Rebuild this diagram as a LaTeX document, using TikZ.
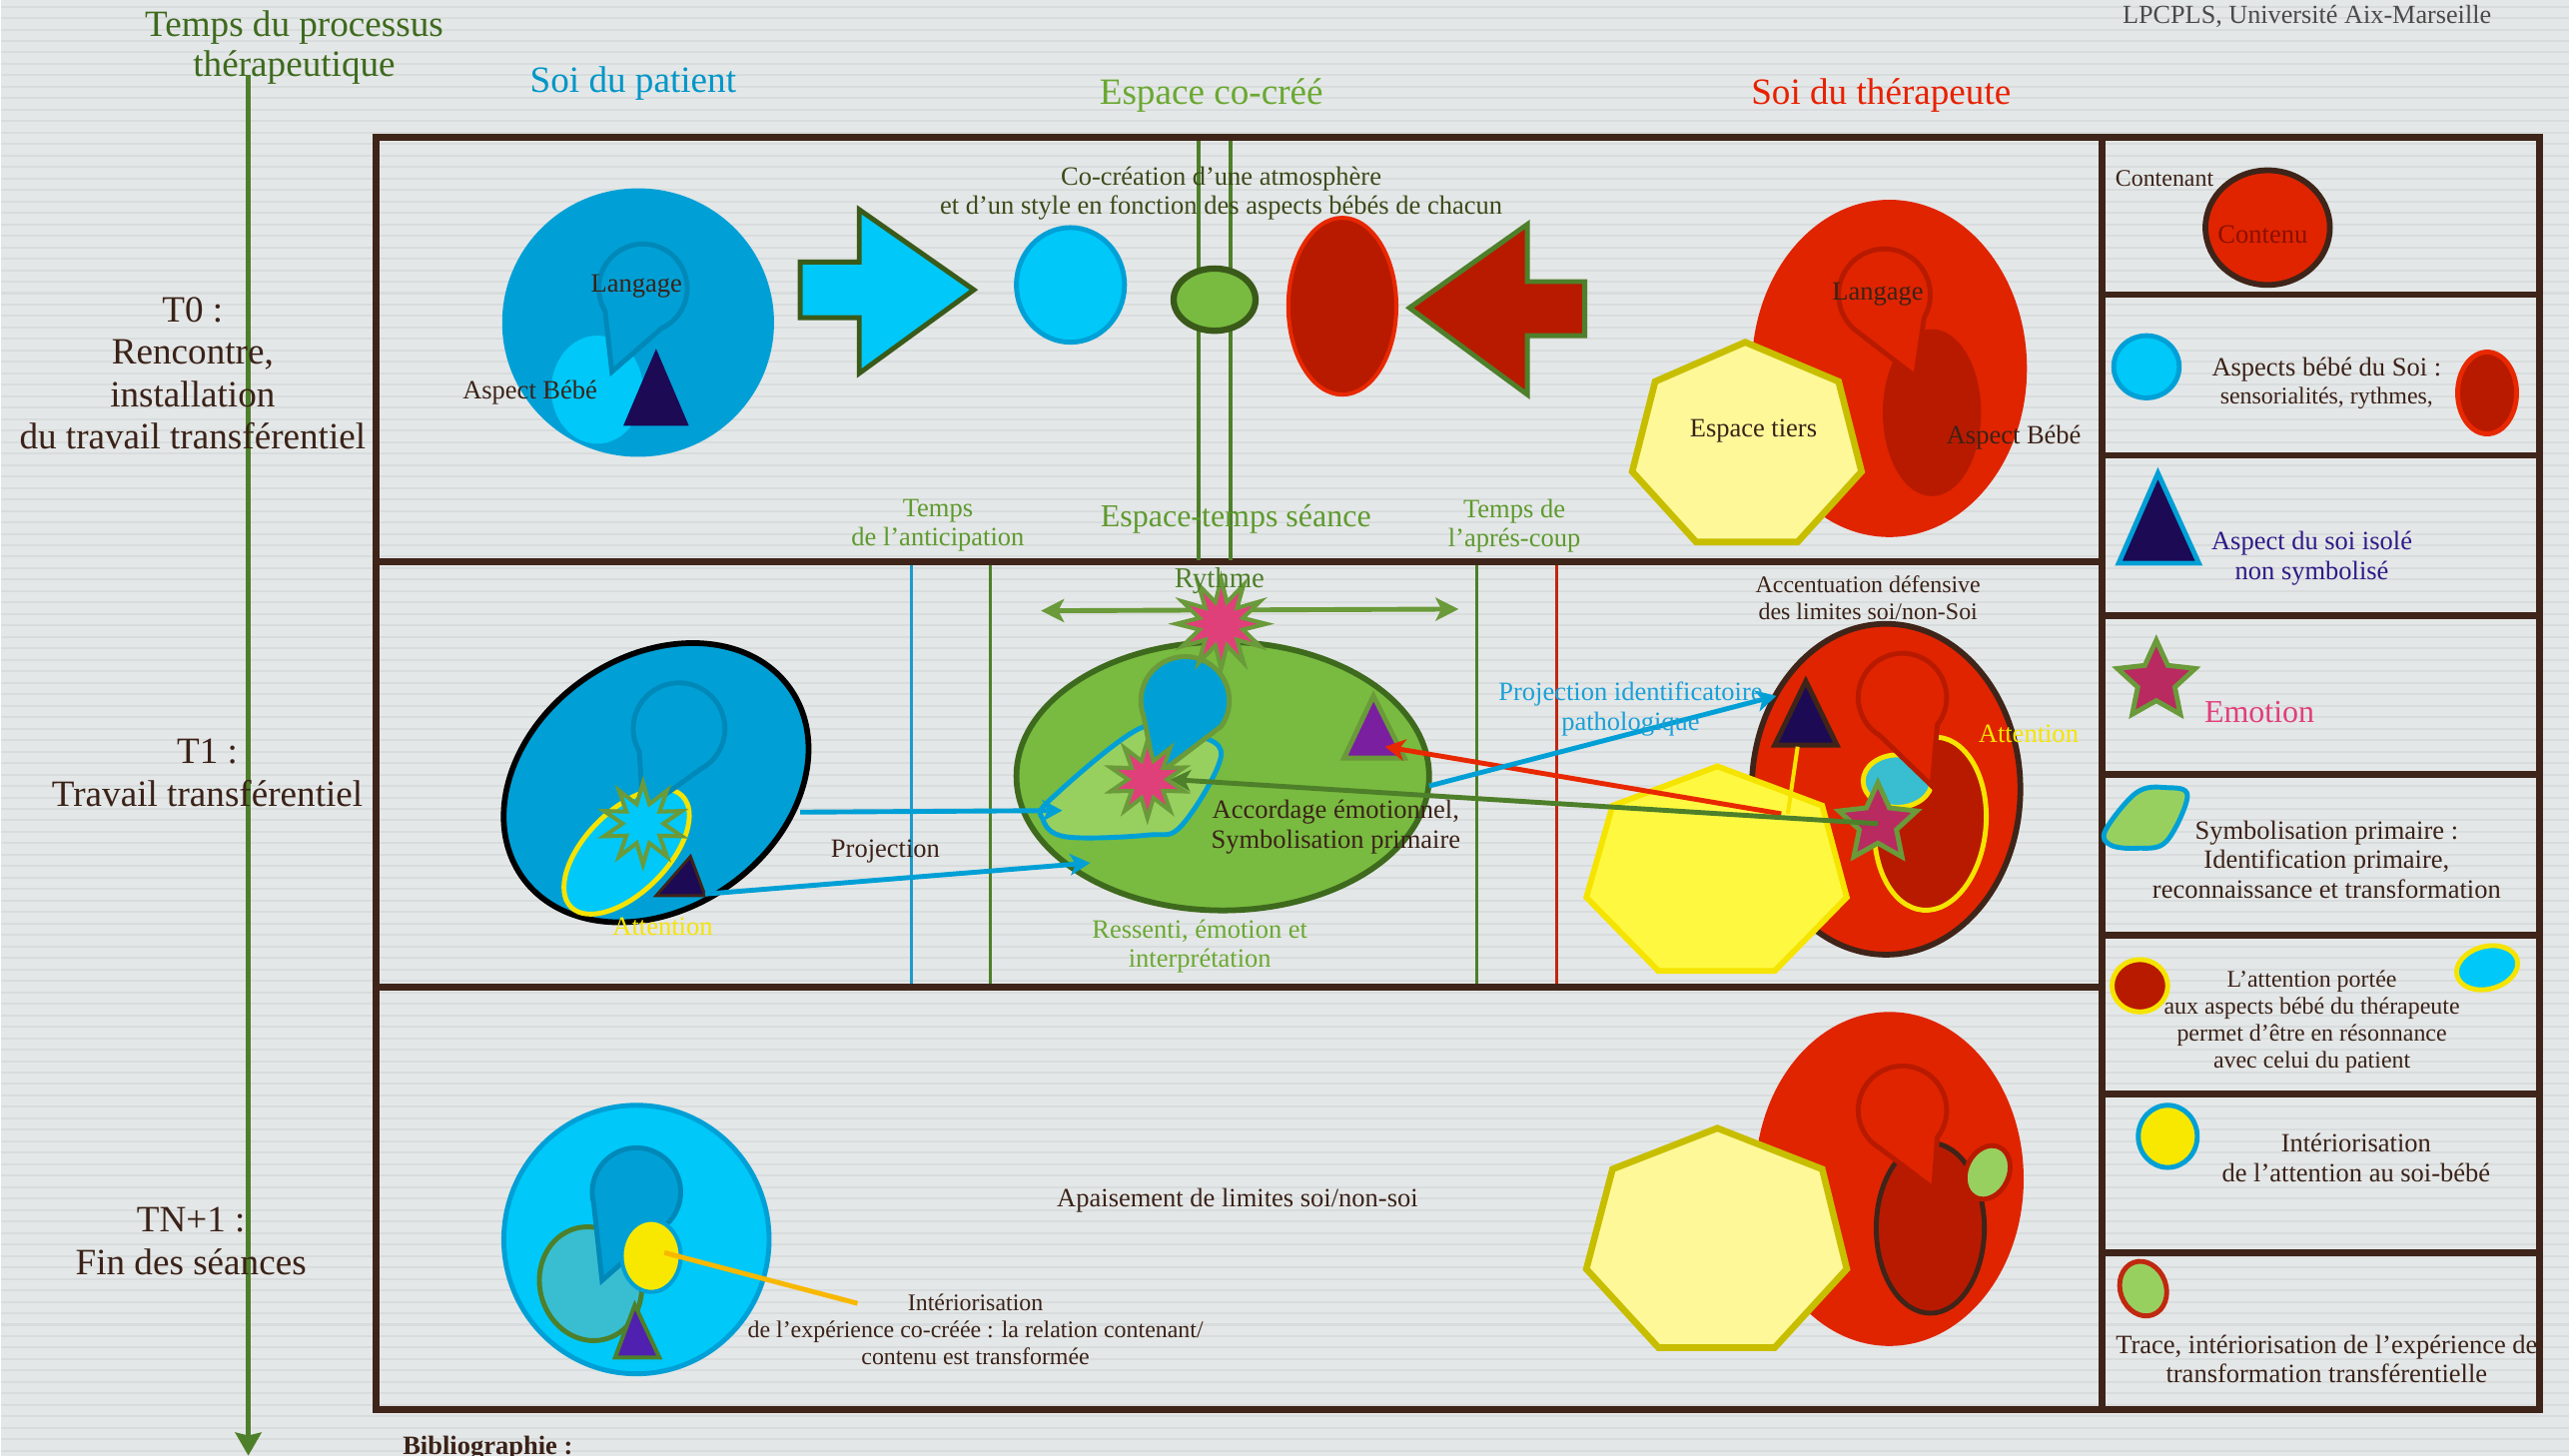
\documentclass[tikz,border=0pt]{standalone}
\usepackage{fontspec}
\setmainfont{Liberation Serif}
\usetikzlibrary{shapes.geometric,arrows.meta,calc}
\definecolor{bgc}{HTML}{E4E7E7}
\definecolor{stripec}{HTML}{D9DCDC}
\definecolor{frbrown}{HTML}{3F2419}
\definecolor{tbrown}{HTML}{3A2218}
\definecolor{pblue}{HTML}{00A0D6}
\definecolor{cyanl}{HTML}{00C8F8}
\definecolor{bdark}{HTML}{0088B8}
\definecolor{navyc}{HTML}{1C0A55}
\definecolor{tred}{HTML}{E02400}
\definecolor{dred}{HTML}{B81A00}
\definecolor{redline}{HTML}{E82800}
\definecolor{gfill}{HTML}{78BB40}
\definecolor{glight}{HTML}{98D060}
\definecolor{gdark}{HTML}{3E6A1E}
\definecolor{olivec}{HTML}{3A5A1A}
\definecolor{dgreen}{HTML}{4E7F2A}
\definecolor{sgreen}{HTML}{6A9A3A}
\definecolor{ylight}{HTML}{FFF899}
\definecolor{yborder}{HTML}{C8BE00}
\definecolor{ybright}{HTML}{FFF840}
\definecolor{yel}{HTML}{F5E400}
\definecolor{yelb}{HTML}{F8E800}
\definecolor{purpA}{HTML}{7A1FA0}
\definecolor{purpB}{HTML}{5020B0}
\definecolor{tealc}{HTML}{38BED0}
\definecolor{pinkc}{HTML}{E0407A}
\definecolor{pinkstar}{HTML}{B82A60}
\definecolor{orangel}{HTML}{F8B800}
\definecolor{lbluev}{HTML}{1A9ACB}
\definecolor{vred}{HTML}{C02810}
\definecolor{thgreen}{HTML}{3E6A1E}
\definecolor{hblue}{HTML}{0096C8}
\definecolor{hgreen}{HTML}{6AA832}
\definecolor{hred}{HTML}{E82000}
\definecolor{lgreen}{HTML}{5E9A2E}
\definecolor{cocol}{HTML}{3C4A1A}
\definecolor{navyt}{HTML}{2E1A88}
\definecolor{grayt}{HTML}{4A4A4A}
\definecolor{contenuc}{HTML}{8A1000}
\definecolor{projblue}{HTML}{1AA0D8}
\newcommand\fsA{\fontsize{12.9pt}{14.8pt}\selectfont}
\newcommand\fsH{\fontsize{12.9pt}{14.2pt}\selectfont}
\newcommand\fsB{\fontsize{9.2pt}{10.2pt}\selectfont}
\newcommand\fsC{\fontsize{8.3pt}{9.3pt}\selectfont}
\newcommand\fsD{\fontsize{11.1pt}{12pt}\selectfont}
\newcommand\fsE{\fontsize{10pt}{11pt}\selectfont}
\newcommand\fsG{\fontsize{9.1pt}{10pt}\selectfont}
\begin{document}
\begin{tikzpicture}[x=0.02cm,y=-0.02cm,
  txt/.style={inner sep=0pt, align=center, text=tbrown, font=\fsB},
  frameline/.style={draw=frbrown, line width=2.3pt},
  bluearr/.style={draw=pblue, line width=1.7pt, -{Stealth[length=7pt,width=7.5pt,inset=2pt]}},
  greenarr/.style={draw=dgreen, line width=1.7pt, -{Stealth[length=7pt,width=7.5pt,inset=2pt]}},
  redarr/.style={draw=redline, line width=1.7pt, -{Stealth[length=7pt,width=7.5pt,inset=2pt]}},
  bothgreen/.style={draw=sgreen, line width=1.7pt, {Stealth[length=8pt,width=8pt,inset=2pt]}-{Stealth[length=8pt,width=8pt,inset=2pt]}},
  axisarr/.style={draw=dgreen, line width=1.8pt, -{Stealth[length=8pt,width=9pt,inset=1pt]}},
  spiky/.style={star, star point ratio=2.0, inner sep=0pt, line width=1.4pt, draw=sgreen},
  fivestar/.style={star, star points=5, star point ratio=2.1, inner sep=0pt, line width=1.7pt, draw=sgreen, fill=pinkstar},
  shapeline/.style={line width=1.7pt}
]
% background
\fill[bgc] (0,0) rectangle (1568,889);
\foreach \yy in {4,11,...,889} {\draw[stripec, line width=0.7pt] (0,\yy) -- (1568,\yy);}
\useasboundingbox (0,0) rectangle (1568,889);

% headers
\node[txt, font=\fsH, text=thgreen] (hTemps) at (179,29) {Temps du processus\\thérapeutique};
\node[txt, font=\fsA, text=hblue] (hPatient) at (386,51) {Soi du patient};
\node[txt, font=\fsA, text=hgreen] (hEspace) at (739,58) {Espace co-créé};
\node[txt, font=\fsA, text=hred] (hThera) at (1148,58) {Soi du thérapeute};
\node[txt, font=\fsG, text=grayt] (hLpc) at (1408,10) {LPCPLS, Université Aix-Marseille};

% time axis
\coordinate (axTop) at (151,46);
\coordinate (axBot) at (151,889);
\draw[axisarr] (axTop) -- (axBot);

% time labels
\node[txt, font=\fsA] (lT0) at (117,228) {T0 :\\Rencontre,\\installation\\du travail transférentiel};
\node[txt, font=\fsA] (lT1) at (126,472) {T1 :\\Travail transférentiel};
\node[txt, font=\fsA] (lTN) at (116,758) {TN+1 :\\Fin des séances};

% frames
\draw[frameline] (229,84) rectangle (1283,861);
\draw[frameline] (229,343) -- (1283,343);
\draw[frameline] (229,603) -- (1283,603);
\draw[frameline] (1283,84) rectangle (1550,861);
\foreach \yy in {180,278,376,473,571,668,765} {\draw[frameline] (1283,\yy) -- (1550,\yy);}

% ================= T0 =================
% double green lines
\draw[dgreen, line width=1.4pt] (731,86) -- (731,342);
\draw[dgreen, line width=1.4pt] (751,86) -- (751,342);
% patient T0
\fill[pblue] (389,197) ellipse [x radius=83, y radius=82];
\fill[cyanl] (364,238) ellipse [x radius=28, y radius=33];
\draw[fill=pblue, draw=bdark, shapeline] (373,227) -- ($(392,176)+(-211:27)$) arc[start angle=-211, end angle=65, radius=27] -- cycle;
\fill[navyc] (400,213) -- (420,260) -- (380,260) -- cycle;
\node[txt] (lLang1) at (388,175) {Langage};
\node[txt] (lAsp1) at (323,240) {Aspect Bébé};
% block arrow blue
\draw[fill=cyanl, draw=olivec, line width=1.7pt] (488,160) -- (524,160) -- (524,128) -- (594,177) -- (524,228) -- (524,194) -- (488,194) -- cycle;
\draw[fill=cyanl, draw=pblue, shapeline] (653,174) ellipse [x radius=33, y radius=35];
\draw[fill=gfill, draw=olivec, line width=2.2pt] (741,183) ellipse [x radius=25, y radius=19];
\draw[fill=dred, draw=redline, line width=1.4pt] (819,187) ellipse [x radius=33, y radius=54];
% block arrow red
\draw[fill=dred, draw=dgreen, line width=1.7pt] (967,172) -- (932,172) -- (932,137) -- (860,188) -- (932,241) -- (932,205) -- (967,205) -- cycle;
\node[txt, text=cocol] (lCoc) at (745,118) {Co-création d’une atmosphère\\et d’un style en fonction des aspects bébés de chacun};
% therapist T0
\fill[tred] (1153,225) ellipse [x radius=84, y radius=103];
\fill[dred] (1179,252) ellipse [x radius=30, y radius=51];
\draw[fill=tred, draw=dred, shapeline] (1169,230) -- ($(1150,180)+(-229:28)$) arc[start angle=-229, end angle=30, radius=28] -- cycle;
\draw[fill=ylight, draw=yborder, line width=2.3pt] (1065,209) -- (1122,233) -- (1136,288) -- (1097,331) -- (1035,331) -- (996,288) -- (1010,233) -- cycle;
\node[txt] (lLang2) at (1146,180) {Langage};
\node[txt] (lTiers) at (1070,263) {Espace tiers};
\node[txt] (lAsp2) at (1229,267) {Aspect Bébé};
% bottom labels of T0
\node[txt, text=lgreen] (lAnt) at (572,321) {Temps\\de l’anticipation};
\node[txt, font=\fsD, text=lgreen] (lSeance) at (754,317) {Espace-temps séance};
\node[txt, text=lgreen] (lApres) at (924,321) {Temps de\\l’aprés-coup};

% ================= T1 =================
\draw[lbluev, line width=1.2pt] (556,345) -- (556,601);
\draw[dgreen, line width=1.2pt] (604,345) -- (604,601);
\draw[dgreen, line width=1.2pt] (901,345) -- (901,601);
\draw[vred, line width=1.2pt] (950,345) -- (950,601);

% patient T1
\draw[fill=pblue, draw=black, line width=2pt, rotate around={35:(400,478)}] (400,478) ellipse [x radius=100, y radius=77];
\draw[fill=navyc, draw=frbrown, line width=1pt] (421,523) -- (430,547) -- (400,547) -- cycle;
\draw[fill=cyanl, draw=yel, shapeline, rotate around={45:(382,520)}] (382,520) ellipse [x radius=48, y radius=25];
\draw[fill=pblue, draw=bdark, shapeline] (392,495) -- ($(414,445)+(-210:28)$) arc[start angle=-210, end angle=62, radius=28] -- cycle;
\node[spiky, star points=10, fill=cyanl, minimum size=1cm] (starPat) at (392,503) {};
\node[txt, text=yel] (lAttP) at (404,566) {Attention};
\node[txt] (lProj) at (540,520) {Projection};

% green ellipse
\draw[fill=gfill, draw=gdark, line width=2pt] (746,474) ellipse [x radius=126, y radius=82];
\draw[fill=glight, draw=pblue, shapeline] plot[smooth cycle, tension=0.6] coordinates {(636,500) (641,488) (695,445) (725,448) (745,461) (721,504) (700,510) (650,511)};
\draw[fill=pblue, draw=sgreen, shapeline] (705,474) -- ($(723,428)+(-200:27)$) arc[start angle=-200, end angle=35, radius=27] -- cycle;
\node[spiky, star points=10, fill=pinkc, minimum size=0.95cm] (starMid) at (700,476) {};
\draw[fill=purpA, draw=sgreen, shapeline] (838,425) -- (857,463) -- (820,463) -- cycle;
\coordinate (purpTri) at (845,456);
\node[txt] (lAcc) at (815,505) {Accordage émotionnel,\\Symbolisation primaire};
\node[txt, text=hgreen] (lRess) at (732,578) {Ressenti, émotion et\\interprétation};

% Rythme
\coordinate (rythL) at (635,373);
\coordinate (rythR) at (890,372);
\draw[bothgreen] (rythL) -- (rythR);
\node[spiky, star points=12, fill=pinkc, minimum size=1.1cm] (starRyth) at (745,381) {};
\node[txt, font=\fsE, text=dgreen] (lRyth) at (744,355) {Rythme};

% therapist T1
\draw[fill=tred, draw=frbrown, line width=2pt] (1151,482) ellipse [x radius=82, y radius=101];
\draw[fill=dred, draw=yel, shapeline, rotate around={-5:(1178,503)}] (1178,503) ellipse [x radius=34, y radius=53];
\draw[fill=tealc, draw=yel, shapeline] (1158,477) ellipse [x radius=21, y radius=16];
\draw[fill=tred, draw=dred, shapeline] (1179,480) -- ($(1161,426)+(-239:27)$) arc[start angle=-239, end angle=38, radius=27] -- cycle;
\draw[fill=navyc, draw=frbrown, shapeline] (1102,416) -- (1121,455) -- (1083,455) -- cycle;
\coordinate (triTop) at (1097,456);
\coordinate (triLow) at (1091,497);
\draw[fill=ybright, draw=yel, line width=2pt] (1048,468) -- (1112,492) -- (1127,548) -- (1083,593) -- (1012,593) -- (968,548) -- (984,492) -- cycle;
\draw[yel, line width=1.4pt] (triTop) -- (triLow);
\coordinate (redStart) at (1087,497);
\draw[redarr] (redStart) -- (purpTri);
\coordinate (ellRight) at (872,480);
\coordinate (triLeft) at (1084,425);
\draw[bluearr] (ellRight) -- (triLeft);
\node[fivestar, minimum size=1cm] (starThera) at (1146,503) {};
\draw[greenarr] (starThera.center) -- (starMid.east);
\node[txt, text=yel] (lAttT) at (1238,448) {Attention};
\node[txt, font=\fsC] (lAccent) at (1140,365) {Accentuation défensive\\des limites soi/non-Soi};
\node[txt, text=projblue] (lProjId) at (995,433) {Projection identificatoire\\pathologique};

% projection arrows from patient
\coordinate (projA) at (488,496);
\coordinate (projB) at (648,495);
\coordinate (projC) at (430,546);
\coordinate (projD) at (665,527);
\draw[bluearr] (projA) -- (projB);
\draw[bluearr] (projC) -- (projD);

% ================= TN+1 =================
\draw[fill=cyanl, draw=pblue, shapeline] (388,757) ellipse [x radius=81, y radius=82];
\draw[fill=tealc, draw=dgreen, shapeline, rotate around={15:(360,784)}] (360,784) ellipse [x radius=31, y radius=35];
\draw[fill=pblue, draw=bdark, shapeline] (367,782) -- ($(388,728)+(-195:27)$) arc[start angle=-195, end angle=60, radius=27] -- cycle;
\draw[fill=yelb, draw=pblue, line width=1.4pt] (397,767) ellipse [x radius=18, y radius=22];
\draw[fill=purpB, draw=dgreen, line width=1.4pt] (387,797) -- (402,829) -- (375,829) -- cycle;
\coordinate (yelCtr) at (405,765);
\coordinate (intText) at (523,796);
\draw[orangel, line width=1.7pt] (yelCtr) -- (intText);
\node[txt, font=\fsC] (lInt) at (595,812) {Intériorisation\\de l’expérience co-créée : la relation contenant/\\contenu est transformée};
\node[txt] (lApais) at (755,733) {Apaisement de limites soi/non-soi};
% therapist TN+1
\fill[tred] (1153,720) ellipse [x radius=82, y radius=102];
\draw[fill=dred, draw=frbrown, shapeline] (1178,750) ellipse [x radius=33, y radius=52];
\draw[fill=tred, draw=dred, shapeline] (1180,726) -- ($(1161,678)+(-239:27)$) arc[start angle=-239, end angle=38, radius=27] -- cycle;
\draw[fill=glight, draw=dred, shapeline, rotate around={-25:(1213,716)}] (1213,716) ellipse [x radius=13, y radius=17];
\draw[fill=ylight, draw=yborder, line width=2.3pt] (1048,689) -- (1112,714) -- (1127,775) -- (1083,823) -- (1012,823) -- (968,775) -- (984,714) -- cycle;

% ================= legend =================
\node[txt, font=\fsC] (gCont) at (1321,109) {Contenant};
\draw[fill=tred, draw=frbrown, line width=2pt] (1384,139) ellipse [x radius=38, y radius=35];
\node[txt, text=contenuc] (gContenu) at (1381,143) {Contenu};

\draw[fill=cyanl, draw=pblue, shapeline] (1310,224) ellipse [x radius=20, y radius=19];
\node[txt] (gAsp1) at (1420,226) {Aspects bébé du Soi :};
\node[txt, font=\fsC] (gAsp2) at (1420,243) {sensorialités, rythmes,};
\draw[fill=dred, draw=redline, shapeline] (1518,240) ellipse [x radius=18, y radius=25];

\draw[fill=navyc, draw=pblue, shapeline] (1317,289) -- (1342,344) -- (1293,344) -- cycle;
\node[txt, text=navyt] (gIsol) at (1411,341) {Aspect du soi isolé\\non symbolisé};

\node[fivestar, minimum size=1cm] (gStar) at (1316,416) {};
\node[txt, font=\fsD, text=pinkc] (gEmo) at (1379,435) {Emotion};

\draw[fill=glight, draw=pblue, shapeline] plot[smooth cycle, tension=0.6] coordinates {(1285,507) (1304,484) (1322,481) (1335,486) (1322,514) (1304,518) (1288,516)};
\node[txt] (gSym) at (1420,525) {Symbolisation primaire :\\Identification primaire,\\reconnaissance et transformation};

\draw[fill=dred, draw=yel, shapeline] (1306,602) ellipse [x radius=17, y radius=16];
\draw[fill=cyanl, draw=yel, shapeline, rotate around={15:(1518,591)}] (1518,591) ellipse [x radius=19, y radius=13];
\node[txt, font=\fsC] (gAtt) at (1411,624) {L’attention portée\\aux aspects bébé du thérapeute\\permet d’être en résonnance\\avec celui du patient};

\draw[fill=yelb, draw=pblue, shapeline] (1323,694) ellipse [x radius=18, y radius=19];
\node[txt] (gInt) at (1438,707) {Intériorisation\\de l’attention au soi-bébé};

\draw[fill=glight, draw=vred, shapeline, rotate around={20:(1308,787)}] (1308,787) ellipse [x radius=14, y radius=17];
\node[txt] (gTrace) at (1420,830) {Trace, intériorisation de l’expérience de\\transformation transférentielle};

% bibliography (cut at bottom)
\node[txt, font=\bfseries\fsB, anchor=north west] (bib) at (245,877) {Bibliographie :};
\end{tikzpicture}
\end{document}
